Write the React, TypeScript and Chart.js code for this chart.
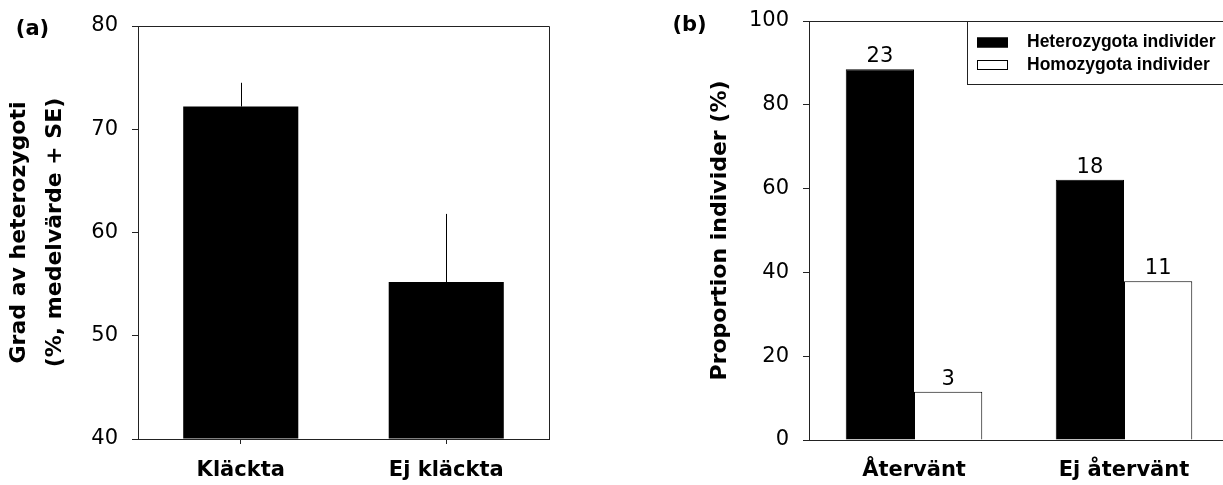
import React, { useEffect, useRef } from 'react';
import { Chart, registerables } from 'chart.js';

Chart.register(...registerables);

const FONT = "'DejaVu Sans', 'Liberation Sans', sans-serif";
const LEGEND_FONT = "'Liberation Sans', Arial, sans-serif";
const AXIS = '#222';

// Panel (a)
const hatchCategories = ['Kläckta', 'Ej kläckta'];
const hatchMeans = [72.2, 55.2];
const hatchSE = [2.3, 6.6];
const hatchAxisRange = [40, 80];
const hatchAxisStep = 10;
const hatchTitle = ['Grad av heterozygoti', '(%, medelvärde + SE)'];

// Panel (b)
const returnCategories = ['Återvänt', 'Ej återvänt'];
const seriesLabels = ['Heterozygota individer', 'Homozygota individer'];
const heteroPercent = [88.5, 62.1];
const homoPercent = [11.5, 37.9];
const heteroCounts = [23, 18];
const homoCounts = [3, 11];
const returnAxisRange = [0, 100];
const returnAxisStep = 20;
const returnTitle = 'Proportion individer (%)';

const framePlugin = {
  id: 'frame',
  afterDraw(chart: any) {
    const { ctx, chartArea } = chart;
    const top = Math.floor(chartArea.top) + 0.5;
    const right = Math.floor(chartArea.right) + 0.5;
    ctx.save();
    ctx.strokeStyle = AXIS;
    ctx.lineWidth = 1;
    ctx.beginPath();
    ctx.moveTo(chartArea.left, top);
    ctx.lineTo(right, top);
    ctx.lineTo(right, chartArea.bottom);
    ctx.stroke();
    ctx.restore();
  },
};

const panelLetter = (text: string, x: number, y: number) => ({
  id: 'panelLetter',
  afterDraw(chart: any) {
    const ctx = chart.ctx;
    ctx.save();
    ctx.font = `bold 21px ${FONT}`;
    ctx.fillStyle = '#000';
    ctx.textAlign = 'center';
    ctx.textBaseline = 'middle';
    ctx.fillText(text, x, y);
    ctx.restore();
  },
});

const errorBarPlugin = {
  id: 'errorBars',
  afterDatasetsDraw(chart: any) {
    const { ctx } = chart;
    const yScale = chart.scales.y;
    const meta = chart.getDatasetMeta(0);
    ctx.save();
    ctx.strokeStyle = '#000';
    ctx.lineWidth = 1;
    meta.data.forEach((bar: any, i: number) => {
      const x = Math.round(bar.x) + 0.5;
      const yTop = yScale.getPixelForValue(hatchMeans[i] + hatchSE[i]);
      ctx.beginPath();
      ctx.moveTo(x, bar.y);
      ctx.lineTo(x, yTop);
      ctx.stroke();
    });
    ctx.restore();
  },
};

const countLabelPlugin = {
  id: 'countLabels',
  afterDatasetsDraw(chart: any) {
    const { ctx } = chart;
    const counts = [heteroCounts, homoCounts];
    ctx.save();
    ctx.font = `21px ${FONT}`;
    ctx.fillStyle = '#000';
    ctx.textAlign = 'center';
    ctx.textBaseline = 'alphabetic';
    counts.forEach((arr, di) => {
      const meta = chart.getDatasetMeta(di);
      meta.data.forEach((bar: any, i: number) => {
        ctx.fillText(String(arr[i]), bar.x, bar.y - 7);
      });
    });
    ctx.restore();
  },
};

const boxedLegendPlugin = {
  id: 'boxedLegend',
  afterDraw(chart: any) {
    const { ctx, chartArea } = chart;
    const left = 367.5;
    const top = Math.floor(chartArea.top) + 0.5;
    const bottom = 84.5;
    const right = Math.floor(chartArea.right) + 0.5;
    ctx.save();
    ctx.fillStyle = '#fff';
    ctx.fillRect(left, top, right - left, bottom - top);
    ctx.strokeStyle = AXIS;
    ctx.lineWidth = 1;
    ctx.strokeRect(left, top, right - left, bottom - top);
    const rows = [42.5, 65];
    chart.data.datasets.forEach((ds: any, i: number) => {
      const cy = rows[i];
      ctx.fillStyle = ds.backgroundColor;
      ctx.fillRect(377, cy - 5, 31, 10);
      ctx.strokeStyle = ds.borderColor;
      ctx.strokeRect(377.5, cy - 4.5, 30, 9);
      ctx.fillStyle = '#000';
      ctx.font = `bold 17.5px ${LEGEND_FONT}`;
      ctx.textAlign = 'left';
      ctx.textBaseline = 'middle';
      ctx.fillText(ds.label, 427, cy);
    });
    ctx.restore();
  },
};

const fixWidth = (w: number) => (s: any) => {
  s.width = w;
  s.paddingTop = 0;
  s.paddingBottom = 0;
};
const fixHeight = (h: number) => (s: any) => {
  s.height = h;
  s.paddingLeft = 0;
  s.paddingRight = 0;
};

export default function App() {
  const refA = useRef<HTMLCanvasElement>(null);
  const refB = useRef<HTMLCanvasElement>(null);

  useEffect(() => {
    const tickFont = { family: FONT, size: 21 };
    const labelFont = { family: FONT, size: 21, weight: 'bold' as const };

    const chartA = new Chart(refA.current!, {
      type: 'bar',
      data: {
        labels: hatchCategories,
        datasets: [
          {
            label: 'Grad av heterozygoti',
            data: hatchMeans,
            backgroundColor: '#000',
            borderWidth: 0,
            base: hatchAxisRange[0],
            barPercentage: 1,
            categoryPercentage: 0.56,
          } as any,
        ],
      },
      options: {
        responsive: false,
        maintainAspectRatio: false,
        animation: false,
        devicePixelRatio: 1,
        layout: { padding: { top: 26, right: 51, bottom: 0, left: 0 } },
        plugins: { legend: { display: false }, tooltip: { enabled: false } },
        scales: {
          x: {
            grid: { display: true, drawOnChartArea: false, offset: false, tickLength: 5, color: AXIS },
            border: { display: true, color: AXIS, width: 1 },
            ticks: { font: labelFont, color: '#000', padding: 14, maxRotation: 0 },
            afterFit: fixHeight(46),
          },
          y: {
            min: hatchAxisRange[0],
            max: hatchAxisRange[1],
            ticks: { stepSize: hatchAxisStep, font: tickFont, color: '#000', padding: 14 },
            grid: { display: true, drawOnChartArea: false, tickLength: 6, color: AXIS },
            border: { display: true, color: AXIS, width: 1 },
            title: {
              display: true,
              text: hatchTitle,
              color: '#000',
              font: { family: FONT, size: 22, weight: 'bold', lineHeight: 36 / 22 },
              padding: { top: 1, bottom: 0 },
            },
            afterFit: fixWidth(138),
          },
        },
      },
      plugins: [framePlugin, errorBarPlugin, panelLetter('(a)', 32.5, 30)],
    });

    const chartB = new Chart(refB.current!, {
      type: 'bar',
      data: {
        labels: returnCategories,
        datasets: [
          {
            label: seriesLabels[0],
            data: heteroPercent,
            backgroundColor: '#000',
            borderColor: '#000',
            borderWidth: 1,
            barPercentage: 1,
            categoryPercentage: 0.65,
          },
          {
            label: seriesLabels[1],
            data: homoPercent,
            backgroundColor: '#fff',
            borderColor: '#000',
            borderWidth: 1,
            barPercentage: 1,
            categoryPercentage: 0.65,
          },
        ],
      },
      options: {
        responsive: false,
        maintainAspectRatio: false,
        animation: false,
        devicePixelRatio: 1,
        layout: { padding: { top: 21, right: 11, bottom: 0, left: 0 } },
        plugins: { legend: { display: false }, tooltip: { enabled: false } },
        scales: {
          x: {
            grid: { display: true, drawOnChartArea: false, drawTicks: false, offset: false, color: 'rgba(0,0,0,0)' },
            border: { display: true, color: AXIS, width: 1 },
            ticks: { font: labelFont, color: '#000', padding: 18, maxRotation: 0 },
            afterFit: fixHeight(45),
          },
          y: {
            min: returnAxisRange[0],
            max: returnAxisRange[1],
            ticks: { stepSize: returnAxisStep, font: tickFont, color: '#000', padding: 14 },
            grid: { display: true, drawOnChartArea: false, tickLength: 6, color: AXIS },
            border: { display: true, color: AXIS, width: 1 },
            title: {
              display: true,
              text: returnTitle,
              color: '#000',
              font: { family: FONT, size: 22, weight: 'bold', lineHeight: 1.2 },
              padding: { top: 107, bottom: 0 },
            },
            afterFit: fixWidth(209),
          },
        },
      },
      plugins: [framePlugin, countLabelPlugin, boxedLegendPlugin, panelLetter('(b)', 89.5, 25.5)],
    });

    return () => {
      chartA.destroy();
      chartB.destroy();
    };
  }, []);

  return (
    <div
      style={{
        position: 'fixed',
        left: 0,
        top: 0,
        width: 1223,
        height: 485,
        overflow: 'hidden',
        background: '#fff',
      }}
    >
      <div style={{ position: 'absolute', left: 0, top: 0, width: 600, height: 485 }}>
        <canvas ref={refA} width={600} height={485} />
      </div>
      <div style={{ position: 'absolute', left: 600, top: 0, width: 640, height: 485 }}>
        <canvas ref={refB} width={640} height={485} />
      </div>
    </div>
  );
}
